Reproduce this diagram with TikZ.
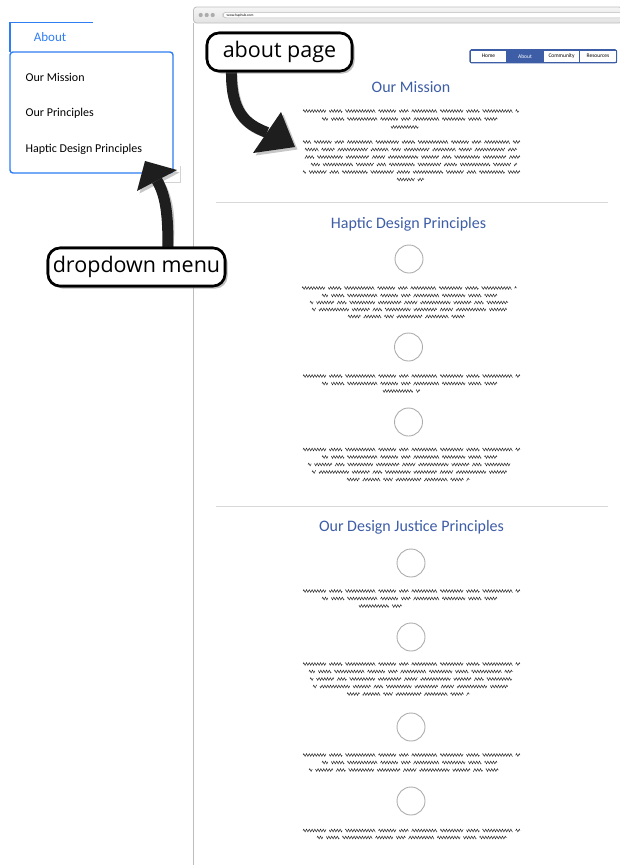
\documentclass[tikz,border=0pt]{standalone}
\usepackage{fontspec}
\newfontfamily\uifont{Carlito}
\newfontfamily\callfont{Open Sans}
\usetikzlibrary{decorations.pathmorphing,shadows}
\definecolor{menublue}{HTML}{2F7DF2}
\definecolor{pageblue}{HTML}{3D5DA6}
\definecolor{framegray}{HTML}{BDBDBD}
\definecolor{rulegray}{HTML}{D8D8D8}
\definecolor{inkblack}{HTML}{1E1E1E}
\begin{document}
\begin{tikzpicture}[x=1pt,y=-1pt,
  scribble/.style={inkblack, line width=0.45pt, decorate,
    decoration={zigzag, segment length=2.8pt, amplitude=1.35pt},
    dash pattern=on 50pt off 7pt on 28pt off 7pt on 65pt off 7pt on 38pt off 7pt on 20pt off 7pt on 55pt off 7pt},
  heading/.style={font=\uifont\fontsize{16}{18}\selectfont, text=pageblue, inner sep=0pt},
  menuitem/.style={font=\uifont\fontsize{12}{14}\selectfont, anchor=west, inner sep=0pt},
  navbtn/.style={draw=pageblue, line width=0.7pt, minimum width=36.5pt, minimum height=12.5pt,
    inner sep=0pt, font=\uifont\fontsize{5.5}{6}\selectfont},
  callout/.style={draw=black, line width=2.6pt, rounded corners=12pt, fill=white,
    inner sep=0pt, font=\callfont\fontsize{21.5}{24}\selectfont,
    drop shadow={opacity=0.3, shadow xshift=2.5pt, shadow yshift=-2.5pt}},
  portrait/.style={circle, draw=gray!65, line width=0.9pt, minimum size=28pt, inner sep=0pt},
  fatshaft/.style={line width=11pt},
]
\useasboundingbox (0,0) rectangle (620,865);

% ---------- browser window ----------
\path[top color=gray!8, bottom color=gray!22, draw=framegray, line width=0.8pt, rounded corners=3pt]
  (193.5,23) |- (622,7) -- (622,23) -- cycle;
\draw[framegray, line width=1.2pt] (193.5,23) -- (193.5,866);
\foreach \dx in {200.7,206.7,212.7} \fill[gray!65] (\dx,15) circle (2.1);
\draw[gray!55, fill=white, line width=0.6pt, rounded corners=3pt] (223,12.3) rectangle (626,17.8);
\node[font=\uifont\fontsize{3.6}{4}\selectfont, anchor=west, inner sep=0pt] (url) at (226.5,15.1) {www.haphub.com};

% ---------- navigation bar ----------
\node[navbtn] (navHome) at (488.5,56.2) {Home};
\node[navbtn, fill=pageblue, text=white] (navAbout) at (525,56.2) {About};
\node[navbtn] (navCommunity) at (561.5,56.2) {Community};
\node[navbtn] (navResources) at (598,56.2) {Resources};
\draw[pageblue, line width=0.9pt, rounded corners=1.5pt] (navHome.north west) rectangle (navResources.south east);

% ---------- section: mission ----------
\node[heading] (hMission) at (411,87) {Our Mission};
\foreach \a/\b/\y/\p in {303/519/111/0, 322/498/119/37, 390/419/127/90,
    303/520/142/140, 305/517/149.5/21, 303/520/157/205, 311/517/164.5/66, 303/520/172/151, 397/424/179.5/12}
  \draw[scribble, dash phase=\p pt] (\a,\y) -- (\b,\y);
\draw[rulegray, line width=1pt] (216,202.5) -- (608,202.5);

% ---------- section: haptic design principles ----------
\node[heading] (hHaptic) at (408.5,224) {Haptic Design Principles};
\node[portrait] (picA) at (409,259) {};
\node[portrait] (picB) at (408.5,347) {};
\node[portrait] (picC) at (408.5,422) {};
\foreach \a/\b/\y/\p in {302/517/288/0, 322/497/295.5/37, 310/508/302.5/150, 312/508/309.5/77, 348/467/316.5/130,
    303/520/376/0, 322/497/383.5/37, 382/420/391/90,
    303/520/449.5/0, 322/497/457/37, 308/513/464.5/150, 312/510/472/77, 347/470/479.5/130}
  \draw[scribble, dash phase=\p pt] (\a,\y) -- (\b,\y);
\draw[rulegray, line width=1pt] (216,506) -- (608,506);

% ---------- section: design justice principles ----------
\node[heading] (hJustice) at (411.5,527) {Our Design Justice Principles};
\node[portrait] (picD) at (411,563) {};
\node[portrait] (picE) at (411,637) {};
\node[portrait] (picF) at (411,727) {};
\node[portrait] (picG) at (411,801) {};
\foreach \a/\b/\y/\p in {303/520/591/0, 322/497/598.5/37, 358/402/606/90,
    303/520/664/0, 309/513/671.5/37, 310/512/679/150, 313/510/686.5/77, 347/470/694/130,
    303/520/755/0, 322/497/762.5/37, 309/499/770/150,
    303/520/830.5/0, 317/507/837.5/37}
  \draw[scribble, dash phase=\p pt] (\a,\y) -- (\b,\y);

% ---------- dropdown menu ----------
\draw[gray!35, line width=0.8pt] (148,182) -- (180,182) -- (180,166);
\draw[menublue, line width=1.4pt] (93,22.3) -- (10,22.3) -- (10,52);
\draw[menublue, line width=1.4pt, fill=white, rounded corners=3pt] (10,52) rectangle (173,173);
\node[font=\uifont\fontsize{13}{15}\selectfont, text=menublue, inner sep=0pt] (tabAbout) at (50,37) {About};
\node[menuitem] (itemMission) at (25.5,77.5) {Our Mission};
\node[menuitem] (itemPrinciples) at (25.5,113.3) {Our Principles};
\node[menuitem] (itemHaptic) at (25.5,149) {Haptic Design Principles};

% ---------- callouts ----------
\node[callout, minimum width=145pt, minimum height=38pt] (aboutCallout) at (279.5,52) {about page};
\node[callout, minimum width=177pt, minimum height=38pt] (menuCallout) at (136.5,267) {dropdown menu};

\coordinate (aboutBase) at (267,132.5);
\coordinate (menuBase) at (157,180.5);

% arrow shadows
\begin{scope}[shift={(2.5,2.5)}, black, opacity=0.22]
  \draw[fatshaft] ([xshift=-48pt]aboutCallout.south) .. controls (231,112) and (245,124) .. (aboutBase);
  \fill (281,112) -- (295,147) -- (253,153) -- cycle;
  \draw[fatshaft] ([xshift=31.5pt]menuCallout.north) .. controls (168,215) and (166,196) .. (menuBase);
  \fill (137,191) -- (145,161) -- (177,170) -- cycle;
\end{scope}

% arrows
\draw[fatshaft, inkblack] ([xshift=-48pt,yshift=1pt]aboutCallout.south) .. controls (231,112) and (245,124) .. (aboutBase);
\fill[inkblack] (281,112) -- (295,147) -- (253,153) -- cycle;
\draw[fatshaft, inkblack] ([xshift=31.5pt,yshift=-1pt]menuCallout.north) .. controls (168,215) and (166,196) .. (menuBase);
\fill[inkblack] (137,191) -- (145,161) -- (177,170) -- cycle;

% redraw callout frames over the shaft ends
\node[callout, minimum width=145pt, minimum height=38pt] at (aboutCallout) {about page};
\node[callout, minimum width=177pt, minimum height=38pt] at (menuCallout) {dropdown menu};
\end{tikzpicture}
\end{document}
